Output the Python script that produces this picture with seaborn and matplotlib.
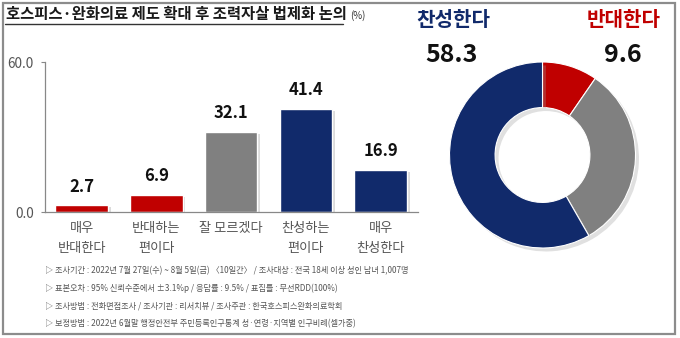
import matplotlib
matplotlib.use("Agg")
import matplotlib.pyplot as plt
import matplotlib.patheffects as pe
from matplotlib.patches import Rectangle
from matplotlib.lines import Line2D
import seaborn as sns
import pandas as pd

# Survey results (%)
categories = ["매우\n반대한다", "반대하는\n편이다", "잘 모르겠다", "찬성하는\n편이다", "매우\n찬성한다"]
values = [2.7, 6.9, 32.1, 41.4, 16.9]
bar_colors = ["#C00000", "#C00000", "#808080", "#112A6B", "#112A6B"]

donut_labels = ["반대한다", "잘 모르겠다", "찬성한다"]
donut_values = [9.6, 32.1, 58.3]
donut_colors = ["#C00000", "#808080", "#112A6B"]

y_ticks = [0, 60]
y_tick_labels = ["0.0", "60.0"]

title = "호스피스·완화의료 제도 확대 후 조력자살 법제화 논의"
title_unit = "(%)"
notes = [
    "▷ 조사기간 : 2022년 7월 27일(수) ~ 8월 5일(금) 〈10일간〉 / 조사대상 : 전국 18세 이상 성인 남녀 1,007명",
    "▷ 표본오차 : 95% 신뢰수준에서 ±3.1%p / 응답률 : 9.5% / 표집틀 : 무선RDD(100%)",
    "▷ 조사방법 : 전화면접조사 / 조사기관 : 리서치뷰 / 조사주관 : 한국호스피스완화의료학회",
    "▷ 보정방법 : 2022년 6월말 행정안전부 주민등록인구통계 성·연령·지역별 인구비례(셀가중)",
]

sns.set_theme(style="white")
plt.rcParams["font.family"] = ["Noto Sans CJK KR", "DejaVu Sans"]

W, H = 680, 338
fig = plt.figure(figsize=(W / 100, H / 100), dpi=100)
fig.patch.set_facecolor("white")

def fx(px):
    return px / W

def fy(py):
    return 1 - py / H

# Outer frame
fig.patches.append(Rectangle((fx(3), fy(334)), fx(672), 331 / H, transform=fig.transFigure,
                             fill=False, edgecolor="#8c8c8c", linewidth=1.6))

# Title with underline
fig.text(fx(6), fy(14), title, fontsize=11.1, fontweight="bold", color="#1a1a1a",
         ha="left", va="center")
fig.text(fx(350), fy(16), title_unit, fontsize=7, color="#333333", ha="left", va="center")
fig.lines.append(Line2D([fx(5), fx(343)], [fy(24), fy(24)], transform=fig.transFigure,
                        color="#333333", linewidth=1.0))

# Bar chart
ax = fig.add_axes([fx(45), fy(212), fx(418) - fx(45), 150 / H])
df = pd.DataFrame({"category": categories, "value": values})
sns.barplot(data=df, x="category", y="value", hue="category", palette=bar_colors,
            legend=False, width=0.7, ax=ax, saturation=1)
for p in ax.patches:
    p.set_path_effects([pe.SimplePatchShadow(offset=(2, -1.5), shadow_rgbFace="#999999", alpha=0.35),
                        pe.Normal()])
ax.set_xlim(-0.49, 4.5)
ax.set_ylim(0, 60)
ax.set_yticks(y_ticks)
ax.set_yticklabels(y_tick_labels, fontsize=9.8, color="#555555")
ax.set_xlabel("")
ax.set_ylabel("")
ax.tick_params(axis="x", length=0, pad=7, labelsize=9.5, labelcolor="#555555")
ax.tick_params(axis="y", length=3, width=0.8, color="#888888", pad=5, left=True)
for lbl in ax.get_xticklabels():
    lbl.set_linespacing(1.7)
for side in ["top", "right"]:
    ax.spines[side].set_visible(False)
for side in ["left", "bottom"]:
    ax.spines[side].set_color("#888888")
    ax.spines[side].set_linewidth(0.9)
ax.set_facecolor("none")
for i, v in enumerate(values):
    ax.text(i, v + 3.8, f"{v:.1f}", ha="center", va="bottom", fontsize=12,
            fontweight="bold", color="#111111")

# Donut chart
dax = fig.add_axes([fx(449.5), fy(248), 186 / W, 186 / H])
wedges, _ = dax.pie(donut_values, colors=donut_colors, startangle=90, counterclock=False,
                    radius=1.0, wedgeprops=dict(width=0.49, edgecolor="white", linewidth=0.8))
for w in wedges:
    w.set_path_effects([pe.SimplePatchShadow(offset=(2.5, -2.5), shadow_rgbFace="#999999", alpha=0.3),
                        pe.Normal()])
dax.set_xlim(-1, 1)
dax.set_ylim(-1, 1)
dax.set_aspect("equal")
dax.axis("off")

# Headline figures
fig.text(fx(453), fy(19), donut_labels[2], fontsize=14.5, fontweight="bold", color="#112A6B",
         ha="center", va="center")
fig.text(fx(452), fy(55), f"{donut_values[2]:.1f}", fontsize=18, fontweight="bold", color="#111111",
         ha="center", va="center")
fig.text(fx(624), fy(19), donut_labels[0], fontsize=14.5, fontweight="bold", color="#C00000",
         ha="center", va="center")
fig.text(fx(623), fy(55), f"{donut_values[0]:.1f}", fontsize=18, fontweight="bold", color="#111111",
         ha="center", va="center")

# Survey notes
for i, line in enumerate(notes):
    fig.text(fx(45), fy(271 + i * 17.4), line, fontsize=5.9, color="#555555",
             ha="left", va="center")

fig.savefig("out.png", dpi=100, facecolor="white")
